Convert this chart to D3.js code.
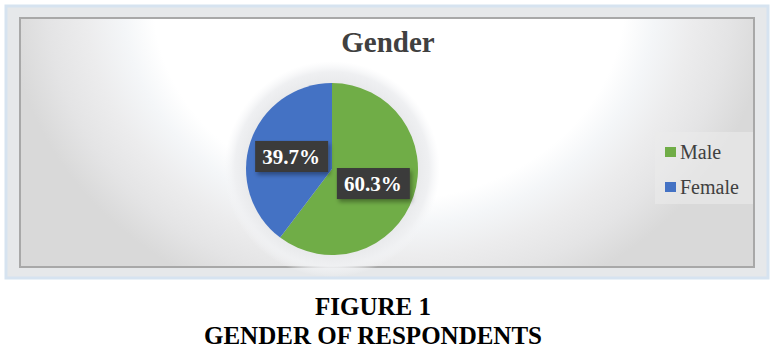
<!DOCTYPE html>
<html><head><meta charset="utf-8">
<script src="https://cdn.jsdelivr.net/npm/d3@7/dist/d3.min.js"></script>
<style>body{margin:0;background:#fff}svg{display:block}</style>
</head><body>
<script>
const categories = ["Male", "Female"];
const values = [60.3, 39.7];
const colors = ["#70ad47", "#4472c4"];
const title = "Gender";
const caption = ["FIGURE 1", "GENDER OF RESPONDENTS"];

const W = 773, H = 363;
const svg = d3.select("body").append("svg").attr("width", W).attr("height", H);
const defs = svg.append("defs");

const rg = defs.append("radialGradient").attr("id","bg").attr("gradientUnits","userSpaceOnUse")
  .attr("cx",389).attr("cy",0).attr("r",380).attr("gradientTransform","translate(389,0) scale(1,0.85) translate(-389,0)");
[[0,"#ffffff"],[0.62,"#ffffff"],[0.7,"#f4f6f8"],[0.8,"#ececed"],[0.9,"#e4e4e5"],[1,"#d9d9d9"]]
  .forEach(([o,c])=>rg.append("stop").attr("offset",o).attr("stop-color",c));

const glow = defs.append("radialGradient").attr("id","glow");
[[0,"#e6e7e9"],[0.8,"#e9eaec"],[0.9,"#eff0f2"],[1,"rgba(245,246,248,0)"]]
  .forEach(([o,c])=>glow.append("stop").attr("offset",o).attr("stop-color",c));

const sh = defs.append("filter").attr("id","sh").attr("x","-20%").attr("y","-20%").attr("width","150%").attr("height","160%");
sh.append("feDropShadow").attr("dx",2).attr("dy",3).attr("stdDeviation",2).attr("flood-color","#000").attr("flood-opacity",0.35);

// outer frame
svg.append("rect").attr("x",6).attr("y",6).attr("width",762).attr("height",272)
  .attr("fill","#e6e8ea").attr("stroke","#d6e3f0").attr("stroke-width",3);
svg.append("rect").attr("x",20).attr("y",18).attr("width",734).attr("height",249)
  .attr("fill","url(#bg)").attr("stroke","#a8a8a8").attr("stroke-width",2);

// title
svg.append("text").attr("x",388).attr("y",52).attr("text-anchor","middle")
  .attr("font-family","Liberation Serif, Times New Roman, serif").attr("font-weight","bold")
  .attr("font-size",29).attr("fill","#404040").text(title);

// pie
const cx = 332, cy = 169, r = 86;
svg.append("circle").attr("cx",cx).attr("cy",cy).attr("r",r+22).attr("fill","url(#glow)");
const pie = d3.pie().sort(null).value(d=>d)(values);
const arc = d3.arc().innerRadius(0).outerRadius(r);
const g = svg.append("g").attr("transform",`translate(${cx},${cy})`);
g.selectAll("path").data(pie).join("path").attr("d",arc).attr("fill",(d,i)=>colors[i]);

// labels
const labelPos = d3.arc().innerRadius(r*0.55).outerRadius(r*0.55);
const lg = g.selectAll("g.lab").data(pie).join("g").attr("class","lab")
  .attr("transform",(d,i)=>{
    const [x,y]=labelPos.centroid(d);
    return i===0 ? `translate(${x-4},${y-1})` : `translate(${x+4},${y+2})`;
  });
lg.append("rect").attr("x",-36).attr("y",-15).attr("width",73).attr("height",31)
  .attr("fill","#3b3b3b").attr("filter","url(#sh)");
lg.append("text").attr("text-anchor","middle").attr("y",8)
  .attr("font-family","Liberation Serif, Times New Roman, serif").attr("font-weight","bold")
  .attr("font-size",21).attr("fill","#ffffff").text(d=>d.value.toFixed(1)+"%");

// legend
svg.append("rect").attr("x",655).attr("y",132).attr("width",98).attr("height",72).attr("fill","#ebebeb").attr("opacity",0.6);
const leg = svg.append("g").selectAll("g").data(categories).join("g")
  .attr("transform",(d,i)=>`translate(665,${147+i*35})`);
leg.append("rect").attr("width",11).attr("height",10).attr("fill",(d,i)=>colors[i]);
leg.append("text").attr("x",15).attr("y",12)
  .attr("font-family","Liberation Serif, Times New Roman, serif").attr("font-size",20)
  .attr("fill","#404040").text(d=>d);

// caption
svg.selectAll("text.cap").data(caption).join("text").attr("class","cap")
  .attr("x",373).attr("y",(d,i)=>315+i*29).attr("text-anchor","middle")
  .attr("font-family","Liberation Serif, Times New Roman, serif").attr("font-weight","bold")
  .attr("font-size",25).attr("fill","#000").text(d=>d);
</script>
</body></html>
